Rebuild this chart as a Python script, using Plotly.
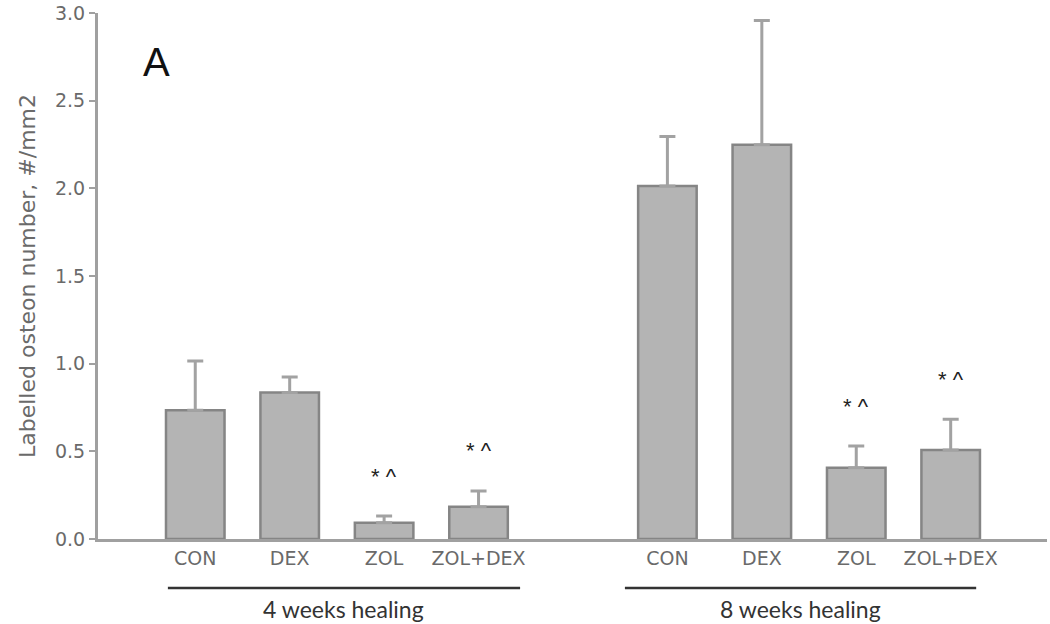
import plotly.graph_objects as go

# data
treatments = ["CON", "DEX", "ZOL", "ZOL+DEX"]
groups = ["4 weeks healing", "8 weeks healing"]
means_4wk = [0.735, 0.835, 0.093, 0.184]
sem_4wk = [0.280, 0.089, 0.038, 0.090]
means_8wk = [2.014, 2.248, 0.407, 0.508]
sem_8wk = [0.281, 0.709, 0.123, 0.175]
signif_4wk = ["", "", "* ^", "* ^"]
signif_8wk = ["", "", "* ^", "* ^"]

bar_fill = "#b4b4b4"
bar_edge = "#858585"
axis_grey = "#a0a0a0"
text_grey = "#6a6a6a"
wide_font = "DejaVu Sans"

# positions: 4 bars, one empty slot, 4 bars
pos_4wk = [0, 1, 2, 3]
pos_8wk = [5, 6, 7, 8]

fig = go.Figure()
for pos, means, sems in [(pos_4wk, means_4wk, sem_4wk), (pos_8wk, means_8wk, sem_8wk)]:
    fig.add_trace(go.Bar(
        x=pos, y=means, width=0.62,
        marker=dict(color=bar_fill, line=dict(color=bar_edge, width=2.5)),
        error_y=dict(type="data", array=sems, arrayminus=[0] * len(sems),
                     symmetric=False, color="#a2a2a2", thickness=3, width=8),
        showlegend=False, hoverinfo="skip",
    ))

# significance marks
for pos, means, sems, marks in [(pos_4wk, means_4wk, sem_4wk, signif_4wk),
                                (pos_8wk, means_8wk, sem_8wk, signif_8wk)]:
    for p, m, s, t in zip(pos, means, sems, marks):
        if t:
            fig.add_annotation(x=p, y=m + s, text=t, showarrow=False,
                               yanchor="middle", yshift=40,
                               font=dict(size=22, color="#222222",
                                         family="Liberation Sans, Arial"))

# group underlines and labels
group_spans = [(-0.29, 3.44), (4.55, 8.27)]
for (x0, x1), name in zip(group_spans, groups):
    fig.add_shape(type="line", xref="x", yref="paper", x0=x0, x1=x1,
                  y0=-0.093, y1=-0.093, line=dict(color="#333333", width=2.5))
    fig.add_annotation(x=(x0 + x1) / 2, y=-0.133, xref="x", yref="paper",
                       text=name, showarrow=False, yanchor="middle",
                       font=dict(size=23, color="#333333", family="Lato"))

fig.add_annotation(x=0.045, y=0.907, xref="paper", yref="paper", text="A",
                   showarrow=False, yanchor="middle",
                   font=dict(size=40, color="#111111",
                             family="Liberation Sans, Arial"))

fig.update_layout(
    width=1050, height=624,
    margin=dict(l=98, r=3, t=13, b=85),
    plot_bgcolor="white", paper_bgcolor="white",
    font=dict(family=wide_font, color=text_grey),
    xaxis=dict(range=[-1.03, 9.02], tickvals=pos_4wk + pos_8wk,
               ticktext=treatments + treatments, ticks="",
               showline=True, linecolor=axis_grey, linewidth=3,
               showgrid=False, zeroline=False,
               tickfont=dict(size=19, color=text_grey, family=wide_font)),
    yaxis=dict(range=[0, 3.0], tickvals=[0, 0.5, 1.0, 1.5, 2.0, 2.5, 3.0],
               tickformat=".1f", ticks="outside", ticklen=6, tickwidth=2,
               tickcolor=axis_grey,
               showline=True, linecolor=axis_grey, linewidth=3,
               showgrid=False, zeroline=False,
               tickfont=dict(size=19, color=text_grey, family=wide_font),
               title=dict(text="Labelled osteon number, #/mm2", standoff=14,
                          font=dict(size=22, color=text_grey, family=wide_font))),
)

# drop the default 8px page margin so the chart fills the window
fig.write_html("out.html", config={"displayModeBar": False},
               post_script="document.body.style.margin = '0';")
